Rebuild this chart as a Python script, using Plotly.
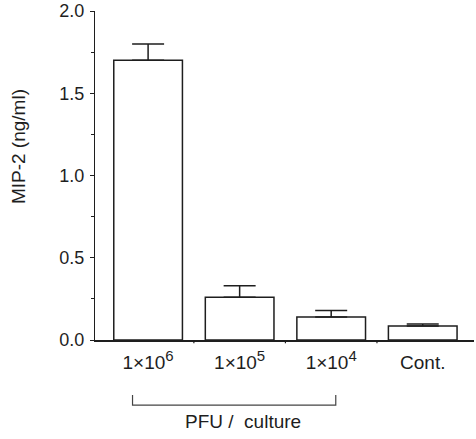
import plotly.graph_objects as go

exponents = ["6", "5", "4"]
categories = ["1×10<sup><span style='font-size:15px'>%s</span></sup>" % e for e in exponents] + ["Cont."]
values = [1.70, 0.26, 0.14, 0.085]
errors = [0.10, 0.07, 0.04, 0.012]
y_ticks = [0.0, 0.5, 1.0, 1.5, 2.0]
y_ticklabels = ["0.0", "0.5", "1.0", "1.5", "2.0"]
y_minor = [0.25, 0.75, 1.25, 1.75]

xs = list(range(len(categories)))
ink = "#1e1e1e"
font = "Liberation Sans, Arial, sans-serif"

fig = go.Figure()
fig.add_trace(go.Bar(
    x=xs, y=values, width=0.75,
    marker=dict(color="white", line=dict(color=ink, width=1.5)),
    error_y=dict(type="data", symmetric=False, array=errors,
                 arrayminus=[0] * len(errors), color=ink, thickness=1.5, width=16),
))

fig.update_layout(
    width=476, height=439,
    margin=dict(l=95, r=2, t=11, b=99),
    plot_bgcolor="white", paper_bgcolor="white",
    showlegend=False,
    font=dict(family=font, size=18, color=ink),
    xaxis=dict(
        range=[-0.58, 3.56], tickmode="array", tickvals=xs, ticktext=categories,
        showline=True, linecolor=ink, linewidth=2, ticks="", showgrid=False,
        zeroline=False, tickfont=dict(size=19, color=ink), ticklabelstandoff=4,
    ),
    yaxis=dict(
        range=[0, 2.0], tickmode="array", tickvals=y_ticks, ticktext=y_ticklabels,
        showline=True, linecolor=ink, linewidth=1.3, ticks="outside", ticklen=4,
        tickwidth=1.3, tickcolor=ink, showgrid=False, zeroline=False,
        minor=dict(tickvals=y_minor, ticks="outside", ticklen=3, tickcolor=ink),
        tickfont=dict(size=18, color=ink), ticklabelstandoff=2,
    ),
)

fig.add_annotation(x=-0.2, y=0.587, xref="paper", yref="paper", text="MIP-2 (ng/ml)",
                   xanchor="center", yanchor="middle",
                   textangle=-90, showarrow=False, font=dict(size=19, color=ink))

# small boundary ticks on x axis
for b in [0.5, 1.5, 2.5]:
    fig.add_shape(type="line", xref="x", yref="paper", x0=b, x1=b, y0=0, y1=-0.01,
                  line=dict(color=ink, width=1.2))

# bracket under first three categories
fig.add_shape(type="path", xref="x", yref="paper",
              path="M -0.17,-0.167 L -0.17,-0.198 L 2.05,-0.198 L 2.05,-0.167",
              line=dict(color="#444", width=1.2))
fig.add_annotation(x=1.04, y=-0.249, xref="x", yref="paper", text="PFU /  culture",
                   xanchor="center", yanchor="middle",
                   showarrow=False, font=dict(size=19, color=ink))

fig.write_html("out.html", config={"displayModeBar": False},
               post_script="document.body.style.margin='0';")
